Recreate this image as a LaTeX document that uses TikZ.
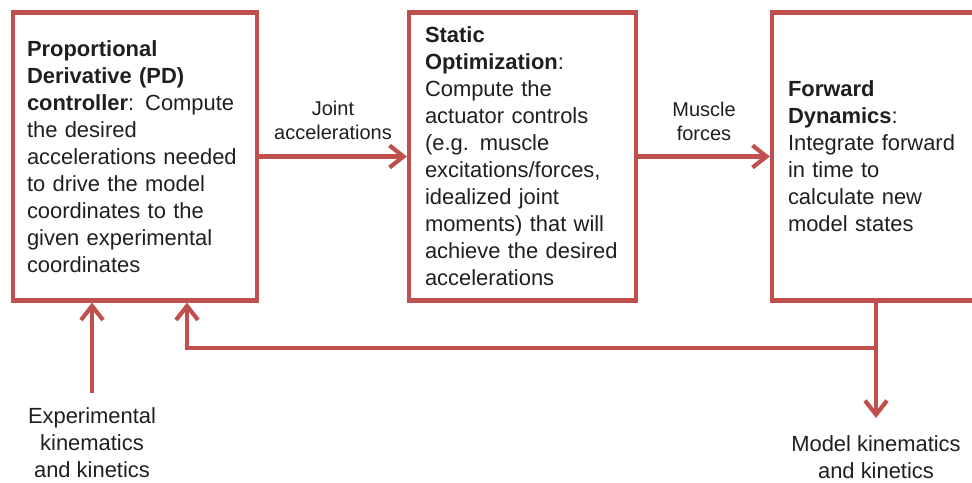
\documentclass[tikz,border=0pt]{standalone}
\usepackage{fontspec}
\setmainfont{Liberation Sans}
\usetikzlibrary{positioning,arrows.meta}
\definecolor{boxred}{RGB}{192,80,77}

\begin{document}
\begin{tikzpicture}[font=\fontsize{15.6}{19.2}\selectfont, text=black!88,
  blk/.style={draw=boxred, line width=3pt, minimum height=7.2cm, align=left, inner ysep=0pt},
  lab/.style={font=\fontsize{14.2}{17}\selectfont, align=center, inner sep=0pt},
  io/.style={align=center, inner xsep=0pt, anchor=north},
  arr/.style={-{Straight Barb[length=3.5mm, width=5.5mm]}, draw=boxred, line width=3pt}]
\useasboundingbox (0,0) rectangle (24.3,-12.075);
\node[blk, text width=5.4cm, inner xsep=3.5mm] (pd) at (3.375,-3.9125) {\textbf{Proportional}\\ \textbf{Derivative (PD)}\\
  \textbf{controller}: Compute\\ the desired\\ accelerations needed\\ to drive the model\\ coordinates to the\\
  given experimental\\ coordinates};
\node[blk, text width=4.875cm, inner xsep=4mm] (so) at (13.0625,-3.9125) {\textbf{Static}\\ \textbf{Optimization}:\\
  Compute the\\ actuator controls\\ (e.g. muscle\\ excitations/forces,\\ idealized joint\\ moments) that will\\
  achieve the desired\\ accelerations};
\node[blk, text width=4.7cm, inner xsep=4mm] (fd) at (22.05,-3.9125) {\textbf{Forward}\\ \textbf{Dynamics}:\\
  Integrate forward\\ in time to\\ calculate new\\ model states};
\node[io, inner ysep=3.5mm] (explab) at (2.3,-9.825) {Experimental\\ kinematics\\ and kinetics};
\node[io, inner ysep=4.25mm] (modlab) at (21.9,-10.45) {Model kinematics\\ and kinetics};
\coordinate (fb) at (4.675,-8.7);
\draw[arr] (pd) -- node[lab, above=3.75mm] (jacc) {Joint\\ accelerations} (so);
\draw[arr] (so) -- node[lab, above=3.5mm] (mfor) {Muscle\\ forces} (fd);
\draw[arr] (explab) -- (explab |- pd.south);
\draw[arr] (fd.south -| modlab) -- (modlab);
\draw[arr] (modlab |- fb) -- (fb) -- (fb |- pd.south);
\end{tikzpicture}
\end{document}
